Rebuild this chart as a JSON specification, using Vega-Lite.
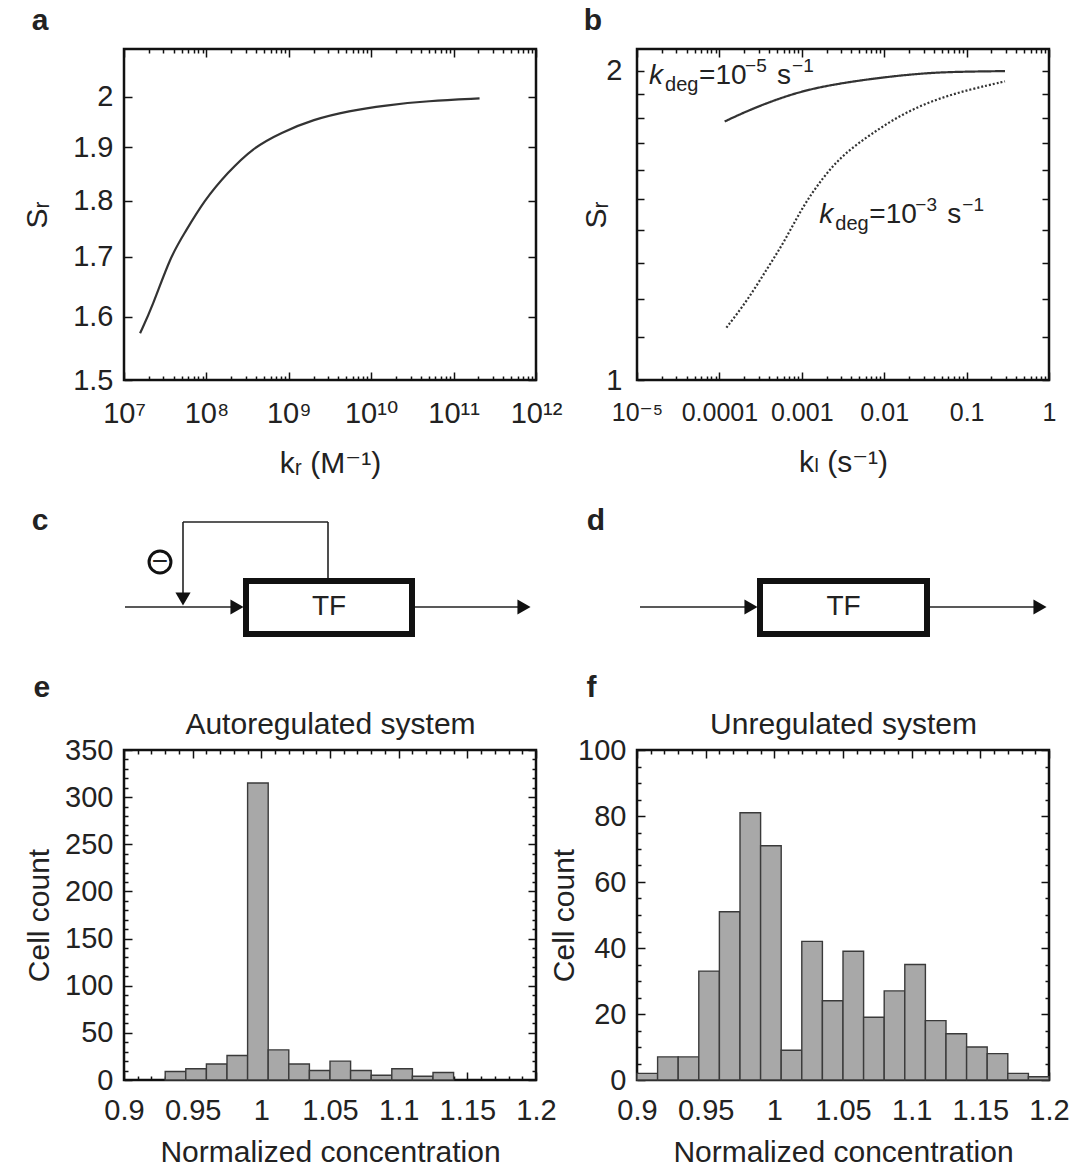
{
  "$schema": "https://vega.github.io/schema/vega-lite/v6.json",
  "padding": {"left": 21, "top": 5, "right": 5, "bottom": 2},
  "background": "white",
  "columns": 2,
  "bounds": "flush",
  "spacing": {"row": 85, "column": 101},
  "config": {
    "font": "Liberation Sans, DejaVu Sans",
    "view": {"stroke": "#111", "strokeWidth": 2.5},
    "axis": {
      "labelFont": "Liberation Sans, DejaVu Sans",
      "labelFontSize": 29,
      "labelColor": "#222",
      "titleFont": "Liberation Sans, DejaVu Sans",
      "titleFontSize": 30,
      "titleFontWeight": "normal",
      "titleColor": "#222",
      "tickColor": "#111",
      "tickWidth": 1.5,
      "domain": false,
      "grid": false,
      "labelOverlap": false,
      "labelFlush": false,
      "labelBound": false
    },
    "title": {"font": "Liberation Sans, DejaVu Sans", "fontSize": 30, "fontWeight": "bold", "color": "#222", "anchor": "start", "frame": "bounds"}
  },
  "concat": [
    {
      "width": 412,
      "height": 331,
      "title": {"text": "a", "offset": 12, "dx": 9},
      "data": {"values": [
        {"k": 1.567e7, "S": 1.573}, {"k": 2.223e7, "S": 1.617}, {"k": 3.664e7, "S": 1.701},
        {"k": 5.458e7, "S": 1.742}, {"k": 9.46e7, "S": 1.801}, {"k": 1.811e8, "S": 1.852},
        {"k": 3.639e8, "S": 1.899}, {"k": 8.091e8, "S": 1.929}, {"k": 1.986e9, "S": 1.955},
        {"k": 5.395e9, "S": 1.972}, {"k": 1.466e10, "S": 1.983}, {"k": 4.853e10, "S": 1.992},
        {"k": 2.065e11, "S": 1.997}
      ]},
      "layer": [
        {
          "mark": {"type": "line", "color": "#333", "strokeWidth": 2.2, "interpolate": "basis"},
          "encoding": {
            "x": {"field": "k", "type": "quantitative",
              "scale": {"type": "log", "domain": [1e7, 1e12], "nice": false},
              "axis": {"orient": "bottom",
                "values": [1e7,2e7,3e7,4e7,5e7,6e7,7e7,8e7,9e7,1e8,2e8,3e8,4e8,5e8,6e8,7e8,8e8,9e8,1e9,2e9,3e9,4e9,5e9,6e9,7e9,8e9,9e9,1e10,2e10,3e10,4e10,5e10,6e10,7e10,8e10,9e10,1e11,2e11,3e11,4e11,5e11,6e11,7e11,8e11,9e11,1e12],
                "labelExpr": "abs(log(datum.value)/LN10-round(log(datum.value)/LN10))>1e-6 ? '' : round(log(datum.value)/LN10)==7 ? '10⁷' : round(log(datum.value)/LN10)==8 ? '10⁸' : round(log(datum.value)/LN10)==9 ? '10⁹' : round(log(datum.value)/LN10)==10 ? '10¹⁰' : round(log(datum.value)/LN10)==11 ? '10¹¹' : '10¹²'",
                "tickSize": {"condition": {"test": "abs(log(datum.value)/LN10-round(log(datum.value)/LN10))<1e-6", "value": -8}, "value": -4},
                "labelPadding": 27,
                "title": "kᵣ (M⁻¹)", "titlePadding": 16}},
            "y": {"field": "S", "type": "quantitative",
              "scale": {"type": "log", "domain": [1.5, 2.1], "nice": false},
              "axis": {"orient": "left", "values": [1.5, 1.6, 1.7, 1.8, 1.9, 2],
                "labelExpr": "'' + datum.value", "tickSize": -8, "labelPadding": 19,
                "title": "Sᵣ", "titlePadding": 20}}
          }
        },
        {
          "mark": {"type": "line", "opacity": 0},
          "encoding": {
            "x": {"field": "k", "type": "quantitative",
              "axis": {"orient": "top",
                "values": [1e7,2e7,3e7,4e7,5e7,6e7,7e7,8e7,9e7,1e8,2e8,3e8,4e8,5e8,6e8,7e8,8e8,9e8,1e9,2e9,3e9,4e9,5e9,6e9,7e9,8e9,9e9,1e10,2e10,3e10,4e10,5e10,6e10,7e10,8e10,9e10,1e11,2e11,3e11,4e11,5e11,6e11,7e11,8e11,9e11,1e12],
                "labels": false,
                "tickSize": {"condition": {"test": "abs(log(datum.value)/LN10-round(log(datum.value)/LN10))<1e-6", "value": -8}, "value": -4},
                "title": null}},
            "y": {"field": "S", "type": "quantitative",
              "axis": {"orient": "right", "values": [1.5, 1.6, 1.7, 1.8, 1.9, 2], "labels": false, "tickSize": -8, "title": null}}
          }
        }
      ],
      "resolve": {"axis": {"x": "independent", "y": "independent"}}
    },
    {
      "width": 412,
      "height": 331,
      "title": {"text": "b", "offset": 12, "dx": 2},
      "layer": [
        {
          "data": {"values": [
            {"kl": 1.159e-4, "S": 1.785, "kdeg": "low"}, {"kl": 2.168e-4, "S": 1.828, "kdeg": "low"},
            {"kl": 5.66e-4, "S": 1.884, "kdeg": "low"}, {"kl": 1.479e-3, "S": 1.927, "kdeg": "low"},
            {"kl": 6.25e-3, "S": 1.963, "kdeg": "low"}, {"kl": 0.02642, "S": 1.988, "kdeg": "low"},
            {"kl": 0.0692, "S": 1.9955, "kdeg": "low"}, {"kl": 0.2924, "S": 1.9985, "kdeg": "low"},
            {"kl": 1.216e-4, "S": 1.1245, "kdeg": "high"}, {"kl": 2.168e-4, "S": 1.194, "kdeg": "high"},
            {"kl": 3.855e-4, "S": 1.286, "kdeg": "high"}, {"kl": 6.237e-4, "S": 1.366, "kdeg": "high"},
            {"kl": 1.007e-3, "S": 1.472, "kdeg": "high"}, {"kl": 1.795e-3, "S": 1.574, "kdeg": "high"},
            {"kl": 3.192e-3, "S": 1.659, "kdeg": "high"}, {"kl": 6.887e-3, "S": 1.735, "kdeg": "high"},
            {"kl": 0.01637, "S": 1.815, "kdeg": "high"}, {"kl": 0.04276, "S": 1.877, "kdeg": "high"},
            {"kl": 0.1117, "S": 1.919, "kdeg": "high"}, {"kl": 0.2924, "S": 1.953, "kdeg": "high"}
          ]},
          "layer": [
            {
              "mark": {"type": "line", "color": "#333", "strokeWidth": 2.2, "interpolate": "basis"},
              "encoding": {
                "x": {"field": "kl", "type": "quantitative",
                  "scale": {"type": "log", "domain": [1e-5, 1], "nice": false},
                  "axis": {"orient": "bottom",
                    "values": [1e-5,2e-5,3e-5,4e-5,5e-5,6e-5,7e-5,8e-5,9e-5,1e-4,2e-4,3e-4,4e-4,5e-4,6e-4,7e-4,8e-4,9e-4,1e-3,2e-3,3e-3,4e-3,5e-3,6e-3,7e-3,8e-3,9e-3,0.01,0.02,0.03,0.04,0.05,0.06,0.07,0.08,0.09,0.1,0.2,0.3,0.4,0.5,0.6,0.7,0.8,0.9,1],
                    "labelExpr": "abs(log(datum.value)/LN10-round(log(datum.value)/LN10))>1e-6 ? '' : round(log(datum.value)/LN10)==-5 ? '10⁻⁵' : round(log(datum.value)/LN10)==-4 ? '0.0001' : round(log(datum.value)/LN10)==-3 ? '0.001' : round(log(datum.value)/LN10)==-2 ? '0.01' : round(log(datum.value)/LN10)==-1 ? '0.1' : '1'",
                    "labelFontSize": 25,
                    "tickSize": {"condition": {"test": "abs(log(datum.value)/LN10-round(log(datum.value)/LN10))<1e-6", "value": -8}, "value": -4},
                    "labelPadding": 28,
                    "title": "kₗ (s⁻¹)", "titlePadding": 18}},
                "y": {"field": "S", "type": "quantitative",
                  "scale": {"type": "log", "domain": [1, 2.1], "nice": false},
                  "axis": {"orient": "left", "values": [1, 1.1, 1.2, 1.3, 1.4, 1.5, 1.6, 1.7, 1.8, 1.9, 2],
                    "labelExpr": "datum.value == 1 || datum.value == 2 ? '' + datum.value : ''",
                    "tickSize": -7, "labelPadding": 22, "title": "Sᵣ", "titlePadding": -6}},
                "strokeDash": {"field": "kdeg", "type": "nominal",
                  "scale": {"domain": ["low", "high"], "range": [[1, 0], [2, 2]]}, "legend": null}
              }
            },
            {
              "mark": {"type": "line", "opacity": 0},
              "encoding": {
                "x": {"field": "kl", "type": "quantitative",
                  "axis": {"orient": "top",
                    "values": [1e-5,2e-5,3e-5,4e-5,5e-5,6e-5,7e-5,8e-5,9e-5,1e-4,2e-4,3e-4,4e-4,5e-4,6e-4,7e-4,8e-4,9e-4,1e-3,2e-3,3e-3,4e-3,5e-3,6e-3,7e-3,8e-3,9e-3,0.01,0.02,0.03,0.04,0.05,0.06,0.07,0.08,0.09,0.1,0.2,0.3,0.4,0.5,0.6,0.7,0.8,0.9,1],
                    "labels": false,
                    "tickSize": {"condition": {"test": "abs(log(datum.value)/LN10-round(log(datum.value)/LN10))<1e-6", "value": -8}, "value": -4},
                    "title": null}},
                "y": {"field": "S", "type": "quantitative",
                  "axis": {"orient": "right", "values": [1, 1.1, 1.2, 1.3, 1.4, 1.5, 1.6, 1.7, 1.8, 1.9, 2], "labels": false, "tickSize": -7, "title": null}},
                "detail": {"field": "kdeg"}
              }
            }
          ]
        },
        {
          "data": {"values": [
            {"kl": 1.4e-5, "S": 1.942, "ex": "−5"},
            {"kl": 1.63e-3, "S": 1.4226, "ex": "−3"}
          ]},
          "encoding": {
            "x": {"field": "kl", "type": "quantitative", "axis": null},
            "y": {"field": "S", "type": "quantitative", "axis": null}
          },
          "layer": [
            {"mark": {"type": "text", "text": "k", "fontStyle": "italic", "fontSize": 28, "align": "left", "baseline": "alphabetic", "color": "#222"}},
            {"mark": {"type": "text", "text": "deg", "fontSize": 20, "align": "left", "baseline": "alphabetic", "dx": 16, "dy": 7, "color": "#222"}},
            {"mark": {"type": "text", "text": "=10", "fontSize": 28, "align": "left", "baseline": "alphabetic", "dx": 50, "color": "#222"}},
            {"mark": {"type": "text", "fontSize": 19, "align": "left", "baseline": "alphabetic", "dx": 96, "dy": -12, "color": "#222"}, "encoding": {"text": {"field": "ex"}}},
            {"mark": {"type": "text", "text": "s", "fontSize": 28, "align": "left", "baseline": "alphabetic", "dx": 128, "color": "#222"}},
            {"mark": {"type": "text", "text": "−1", "fontSize": 19, "align": "left", "baseline": "alphabetic", "dx": 143, "dy": -12, "color": "#222"}}
          ]
        }
      ],
      "resolve": {"axis": {"x": "independent", "y": "independent"}}
    },
    {
      "width": 412,
      "height": 200,
      "view": {"stroke": null},
      "layer": [
        {
          "data": {"values": [
            {"x1": 1, "x2": 112, "y1": 58, "y2": 58},
            {"x1": 291, "x2": 398, "y1": 58, "y2": 58},
            {"x1": 204, "x2": 204, "y1": 87, "y2": 143},
            {"x1": 59, "x2": 204, "y1": 143, "y2": 143},
            {"x1": 59, "x2": 59, "y1": 143, "y2": 70}
          ]},
          "mark": {"type": "rule", "color": "#222", "strokeWidth": 1.6},
          "encoding": {
            "x": {"field": "x1", "type": "quantitative", "scale": {"domain": [0, 412], "nice": false, "zero": false}, "axis": null},
            "x2": {"field": "x2"},
            "y": {"field": "y1", "type": "quantitative", "scale": {"domain": [0, 200], "nice": false, "zero": false}, "axis": null},
            "y2": {"field": "y2"}
          }
        },
        {
          "data": {"values": [{"x1": 122, "x2": 288, "y1": 31, "y2": 84}]},
          "mark": {"type": "rect", "fill": "white", "stroke": "#111", "strokeWidth": 6},
          "encoding": {
            "x": {"field": "x1", "type": "quantitative", "axis": null},
            "x2": {"field": "x2"},
            "y": {"field": "y1", "type": "quantitative", "axis": null},
            "y2": {"field": "y2"}
          }
        },
        {
          "data": {"values": [
            {"x": 113, "y": 58, "dir": "right"},
            {"x": 400, "y": 58, "dir": "right"},
            {"x": 59, "y": 66, "dir": "down"}
          ]},
          "mark": {"type": "point", "filled": true, "color": "#111", "size": 230, "opacity": 1},
          "encoding": {
            "x": {"field": "x", "type": "quantitative", "axis": null},
            "y": {"field": "y", "type": "quantitative", "axis": null},
            "shape": {"field": "dir", "type": "nominal", "scale": {"domain": ["right", "down"], "range": ["triangle-right", "triangle-down"]}, "legend": null}
          }
        },
        {
          "data": {"values": [{"x": 36, "y": 103}]},
          "mark": {"type": "point", "shape": "circle", "filled": false, "color": "#111", "strokeWidth": 3, "size": 480, "opacity": 1},
          "encoding": {
            "x": {"field": "x", "type": "quantitative", "axis": null},
            "y": {"field": "y", "type": "quantitative", "axis": null}
          }
        },
        {
          "data": {"values": [{"x": 36, "y": 103, "label": "−"}, {"x": 205, "y": 58, "label": "TF"}]},
          "mark": {"type": "text", "fontSize": 28, "font": "Liberation Sans Narrow, Liberation Sans", "color": "#222", "align": "center", "baseline": "middle"},
          "encoding": {
            "x": {"field": "x", "type": "quantitative", "axis": null},
            "y": {"field": "y", "type": "quantitative", "axis": null},
            "text": {"field": "label"}
          }
        },
        {
          "data": {"values": [{"x": -84, "y": 144, "label": "c"}]},
          "mark": {"type": "text", "fontSize": 30, "fontWeight": "bold", "color": "#222", "align": "center", "baseline": "middle"},
          "encoding": {
            "x": {"field": "x", "type": "quantitative", "axis": null},
            "y": {"field": "y", "type": "quantitative", "axis": null},
            "text": {"field": "label"}
          }
        }
      ]
    },
    {
      "width": 412,
      "height": 200,
      "view": {"stroke": null},
      "layer": [
        {
          "data": {"values": [
            {"x1": 3, "x2": 113, "y1": 58, "y2": 58},
            {"x1": 293, "x2": 400, "y1": 58, "y2": 58}
          ]},
          "mark": {"type": "rule", "color": "#222", "strokeWidth": 1.6},
          "encoding": {
            "x": {"field": "x1", "type": "quantitative", "scale": {"domain": [0, 412], "nice": false, "zero": false}, "axis": null},
            "x2": {"field": "x2"},
            "y": {"field": "y1", "type": "quantitative", "scale": {"domain": [0, 200], "nice": false, "zero": false}, "axis": null},
            "y2": {"field": "y2"}
          }
        },
        {
          "data": {"values": [{"x1": 123, "x2": 290, "y1": 31, "y2": 84}]},
          "mark": {"type": "rect", "fill": "white", "stroke": "#111", "strokeWidth": 6},
          "encoding": {
            "x": {"field": "x1", "type": "quantitative", "axis": null},
            "x2": {"field": "x2"},
            "y": {"field": "y1", "type": "quantitative", "axis": null},
            "y2": {"field": "y2"}
          }
        },
        {
          "data": {"values": [
            {"x": 114, "y": 58, "dir": "right"},
            {"x": 403, "y": 58, "dir": "right"}
          ]},
          "mark": {"type": "point", "filled": true, "color": "#111", "size": 230, "opacity": 1, "shape": "triangle-right"},
          "encoding": {
            "x": {"field": "x", "type": "quantitative", "axis": null},
            "y": {"field": "y", "type": "quantitative", "axis": null}
          }
        },
        {
          "data": {"values": [{"x": 206.5, "y": 58, "label": "TF"}]},
          "mark": {"type": "text", "fontSize": 28, "font": "Liberation Sans Narrow, Liberation Sans", "color": "#222", "align": "center", "baseline": "middle"},
          "encoding": {
            "x": {"field": "x", "type": "quantitative", "axis": null},
            "y": {"field": "y", "type": "quantitative", "axis": null},
            "text": {"field": "label"}
          }
        },
        {
          "data": {"values": [{"x": -41, "y": 144, "label": "d"}]},
          "mark": {"type": "text", "fontSize": 30, "fontWeight": "bold", "color": "#222", "align": "center", "baseline": "middle"},
          "encoding": {
            "x": {"field": "x", "type": "quantitative", "axis": null},
            "y": {"field": "y", "type": "quantitative", "axis": null},
            "text": {"field": "label"}
          }
        }
      ]
    },
    {
      "width": 412,
      "height": 330,
      "title": {"text": "e", "offset": 6, "dx": 9},
      "data": {"values": [
        {"lo": 0.93, "hi": 0.945, "n": 9}, {"lo": 0.945, "hi": 0.96, "n": 12},
        {"lo": 0.96, "hi": 0.975, "n": 17}, {"lo": 0.975, "hi": 0.99, "n": 26},
        {"lo": 0.99, "hi": 1.005, "n": 315}, {"lo": 1.005, "hi": 1.02, "n": 32},
        {"lo": 1.02, "hi": 1.035, "n": 17}, {"lo": 1.035, "hi": 1.05, "n": 10},
        {"lo": 1.05, "hi": 1.065, "n": 20}, {"lo": 1.065, "hi": 1.08, "n": 10},
        {"lo": 1.08, "hi": 1.095, "n": 5}, {"lo": 1.095, "hi": 1.11, "n": 12},
        {"lo": 1.11, "hi": 1.125, "n": 4}, {"lo": 1.125, "hi": 1.14, "n": 8}
      ]},
      "layer": [
        {
          "mark": {"type": "rect", "fill": "#a8a8a8", "stroke": "#3a3a3a", "strokeWidth": 1.4},
          "encoding": {
            "x": {"field": "lo", "type": "quantitative",
              "scale": {"domain": [0.9, 1.2], "nice": false, "zero": false},
              "axis": {"orient": "bottom",
                "values": [0.9,0.91,0.92,0.93,0.94,0.95,0.96,0.97,0.98,0.99,1,1.01,1.02,1.03,1.04,1.05,1.06,1.07,1.08,1.09,1.1,1.11,1.12,1.13,1.14,1.15,1.16,1.17,1.18,1.19,1.2],
                "labelExpr": "abs(datum.value*20-round(datum.value*20))<1e-6 ? '' + datum.value : ''",
                "tickSize": {"condition": {"test": "abs(datum.value*20-round(datum.value*20))<1e-6", "value": -8}, "value": -4},
                "labelPadding": 24,
                "title": "Normalized concentration", "titlePadding": 8}},
            "x2": {"field": "hi"},
            "y": {"field": "n", "type": "quantitative",
              "scale": {"domain": [0, 350], "nice": false},
              "axis": {"orient": "left",
                "values": [0,10,20,30,40,50,60,70,80,90,100,110,120,130,140,150,160,170,180,190,200,210,220,230,240,250,260,270,280,290,300,310,320,330,340,350],
                "labelExpr": "datum.value % 50 == 0 ? '' + datum.value : ''",
                "tickSize": {"condition": {"test": "datum.value % 50 == 0", "value": -8}, "value": -4},
                "labelPadding": 19,
                "title": "Cell count", "titlePadding": 10}},
            "y2": {"datum": 0}
          }
        },
        {
          "mark": {"type": "rect", "opacity": 0},
          "encoding": {
            "x": {"field": "lo", "type": "quantitative",
              "axis": {"orient": "top",
                "values": [0.9,0.91,0.92,0.93,0.94,0.95,0.96,0.97,0.98,0.99,1,1.01,1.02,1.03,1.04,1.05,1.06,1.07,1.08,1.09,1.1,1.11,1.12,1.13,1.14,1.15,1.16,1.17,1.18,1.19,1.2],
                "labels": false,
                "tickSize": {"condition": {"test": "abs(datum.value*20-round(datum.value*20))<1e-6", "value": -8}, "value": -4},
                "title": "Autoregulated system", "titlePadding": 10}},
            "x2": {"field": "hi"},
            "y": {"field": "n", "type": "quantitative",
              "axis": {"orient": "right",
                "values": [0,10,20,30,40,50,60,70,80,90,100,110,120,130,140,150,160,170,180,190,200,210,220,230,240,250,260,270,280,290,300,310,320,330,340,350],
                "labels": false,
                "tickSize": {"condition": {"test": "datum.value % 50 == 0", "value": -8}, "value": -4},
                "title": null}},
            "y2": {"datum": 0}
          }
        }
      ],
      "resolve": {"axis": {"x": "independent", "y": "independent"}}
    },
    {
      "width": 412,
      "height": 330,
      "title": {"text": "f", "offset": 6, "dx": 37},
      "data": {"values": [
        {"lo": 0.9, "hi": 0.915, "n": 2}, {"lo": 0.915, "hi": 0.93, "n": 7},
        {"lo": 0.93, "hi": 0.945, "n": 7}, {"lo": 0.945, "hi": 0.96, "n": 33},
        {"lo": 0.96, "hi": 0.975, "n": 51}, {"lo": 0.975, "hi": 0.99, "n": 81},
        {"lo": 0.99, "hi": 1.005, "n": 71}, {"lo": 1.005, "hi": 1.02, "n": 9},
        {"lo": 1.02, "hi": 1.035, "n": 42}, {"lo": 1.035, "hi": 1.05, "n": 24},
        {"lo": 1.05, "hi": 1.065, "n": 39}, {"lo": 1.065, "hi": 1.08, "n": 19},
        {"lo": 1.08, "hi": 1.095, "n": 27}, {"lo": 1.095, "hi": 1.11, "n": 35},
        {"lo": 1.11, "hi": 1.125, "n": 18}, {"lo": 1.125, "hi": 1.14, "n": 14},
        {"lo": 1.14, "hi": 1.155, "n": 10}, {"lo": 1.155, "hi": 1.17, "n": 8},
        {"lo": 1.17, "hi": 1.185, "n": 2}, {"lo": 1.185, "hi": 1.2, "n": 1}
      ]},
      "layer": [
        {
          "mark": {"type": "rect", "fill": "#a8a8a8", "stroke": "#3a3a3a", "strokeWidth": 1.4},
          "encoding": {
            "x": {"field": "lo", "type": "quantitative",
              "scale": {"domain": [0.9, 1.2], "nice": false, "zero": false},
              "axis": {"orient": "bottom",
                "values": [0.9,0.91,0.92,0.93,0.94,0.95,0.96,0.97,0.98,0.99,1,1.01,1.02,1.03,1.04,1.05,1.06,1.07,1.08,1.09,1.1,1.11,1.12,1.13,1.14,1.15,1.16,1.17,1.18,1.19,1.2],
                "labelExpr": "abs(datum.value*20-round(datum.value*20))<1e-6 ? '' + datum.value : ''",
                "tickSize": {"condition": {"test": "abs(datum.value*20-round(datum.value*20))<1e-6", "value": -8}, "value": -4},
                "labelPadding": 24,
                "title": "Normalized concentration", "titlePadding": 8}},
            "x2": {"field": "hi"},
            "y": {"field": "n", "type": "quantitative",
              "scale": {"domain": [0, 100], "nice": false},
              "axis": {"orient": "left",
                "values": [0,5,10,15,20,25,30,35,40,45,50,55,60,65,70,75,80,85,90,95,100],
                "labelExpr": "datum.value % 20 == 0 ? '' + datum.value : ''",
                "tickSize": {"condition": {"test": "datum.value % 20 == 0", "value": -8}, "value": -4},
                "labelPadding": 19,
                "title": "Cell count", "titlePadding": -2}},
            "y2": {"datum": 0}
          }
        },
        {
          "mark": {"type": "rect", "opacity": 0},
          "encoding": {
            "x": {"field": "lo", "type": "quantitative",
              "axis": {"orient": "top",
                "values": [0.9,0.91,0.92,0.93,0.94,0.95,0.96,0.97,0.98,0.99,1,1.01,1.02,1.03,1.04,1.05,1.06,1.07,1.08,1.09,1.1,1.11,1.12,1.13,1.14,1.15,1.16,1.17,1.18,1.19,1.2],
                "labels": false,
                "tickSize": {"condition": {"test": "abs(datum.value*20-round(datum.value*20))<1e-6", "value": -8}, "value": -4},
                "title": "Unregulated system", "titlePadding": 10}},
            "x2": {"field": "hi"},
            "y": {"field": "n", "type": "quantitative",
              "axis": {"orient": "right",
                "values": [0,5,10,15,20,25,30,35,40,45,50,55,60,65,70,75,80,85,90,95,100],
                "labels": false,
                "tickSize": {"condition": {"test": "datum.value % 20 == 0", "value": -8}, "value": -4},
                "title": null}},
            "y2": {"datum": 0}
          }
        }
      ],
      "resolve": {"axis": {"x": "independent", "y": "independent"}}
    }
  ]
}
